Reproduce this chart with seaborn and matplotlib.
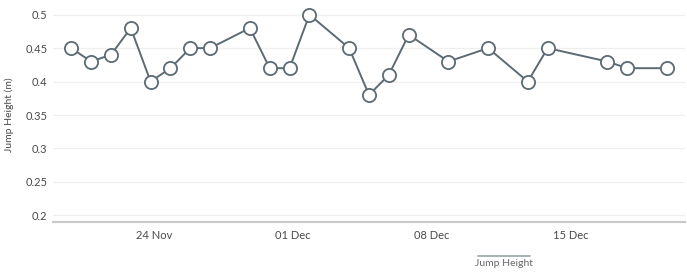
import matplotlib
matplotlib.use("Agg")
import matplotlib.pyplot as plt
import seaborn as sns
import pandas as pd
from matplotlib.lines import Line2D

dates = ["2023-11-20", "2023-11-21", "2023-11-22", "2023-11-23", "2023-11-24",
         "2023-11-25", "2023-11-26", "2023-11-27", "2023-11-29", "2023-11-30",
         "2023-12-01", "2023-12-02", "2023-12-04", "2023-12-05", "2023-12-06",
         "2023-12-07", "2023-12-09", "2023-12-11", "2023-12-13", "2023-12-14",
         "2023-12-17", "2023-12-18", "2023-12-20"]
jump_height = [0.45, 0.43, 0.44, 0.48, 0.40, 0.42, 0.45, 0.45, 0.48, 0.42,
               0.42, 0.50, 0.45, 0.38, 0.41, 0.47, 0.43, 0.45, 0.40, 0.45,
               0.43, 0.42, 0.42]
y_ticks = [0.2, 0.25, 0.3, 0.35, 0.4, 0.45, 0.5]
x_ticks = ["2023-11-24", "2023-12-01", "2023-12-08", "2023-12-15"]
x_tick_labels = ["24 Nov", "01 Dec", "08 Dec", "15 Dec"]

df = pd.DataFrame({"date": pd.to_datetime(dates), "Jump Height": jump_height})

sns.set_theme(style="white")
plt.rcParams["font.family"] = ["Lato", "DejaVu Sans"]

text_color = "#4a4a4a"
line_color = "#5c6b73"

fig = plt.figure(figsize=(6.87, 2.73), dpi=100)
ax = fig.add_axes([53/687, 1 - 222/273, (685 - 53)/687, (222 - 8)/273])

sns.lineplot(data=df, x="date", y="Jump Height", ax=ax, color=line_color,
             linewidth=1.4, marker="o", markersize=9.5,
             markerfacecolor="white", markeredgecolor=line_color,
             markeredgewidth=1.3, legend=False)

ax.set_ylim(0.19, 0.51)
ax.set_xlim(pd.Timestamp("2023-11-19 02:00"), pd.Timestamp("2023-12-20 22:00"))
ax.set_yticks(y_ticks)
ax.set_yticklabels([f"{v:g}" for v in y_ticks], color=text_color, fontsize=8)
ax.set_xticks(pd.to_datetime(x_ticks) + pd.Timedelta(hours=4))
ax.set_xticklabels(x_tick_labels, color=text_color, fontsize=8)
ax.tick_params(axis="both", length=0, pad=4)
ax.tick_params(axis="x", pad=6)
ax.grid(axis="y", color="#efefef", linewidth=0.9)
ax.set_axisbelow(True)
for s in ["top", "right", "left"]:
    ax.spines[s].set_visible(False)
ax.spines["bottom"].set_color("#c8c8c8")
ax.spines["bottom"].set_linewidth(1.5)
ax.set_xlabel("")
ax.set_ylabel("Jump Height (m)", color=text_color, fontsize=7.5)
ax.yaxis.set_label_coords((14 - 53) / 632, 0.5)

# legend-like label
fig.text(504/687, 1 - 263/273, "Jump Height", ha="center", va="center",
         color="#666666", fontsize=7.5)
fig.add_artist(Line2D([478/687, 530/687], [1 - 256/273, 1 - 256/273],
                      transform=fig.transFigure, color="#9aa3a8", linewidth=1.2))

fig.savefig("out.png", dpi=100)
